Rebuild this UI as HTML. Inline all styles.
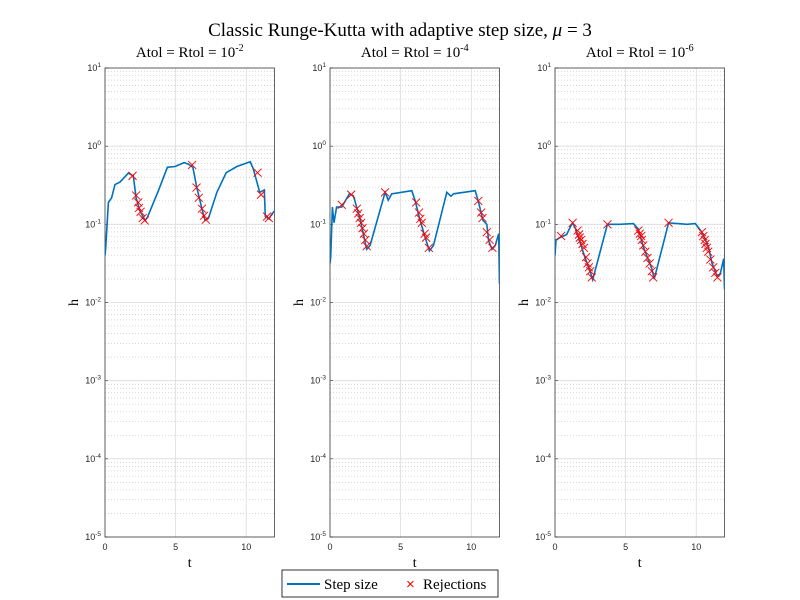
<!DOCTYPE html>
<html><head><meta charset="utf-8"><style>
body{margin:0;background:#fff;}
svg{display:block;font-family:"Liberation Sans",sans-serif;}
.serif{font-family:"Liberation Serif",serif;}
</style></head><body>
<svg id="fig" width="800" height="600" viewBox="0 0 800 600">
<rect width="800" height="600" fill="#fff"/>
<text class="serif" x="400" y="36" text-anchor="middle" font-size="19">Classic Runge-Kutta with adaptive step size, <tspan font-style="italic">μ</tspan> = 3</text>
<g>
<rect x="282" y="570" width="216" height="27" fill="#fff" stroke="#000" stroke-width="0.8"/>
<line x1="287" y1="584" x2="320" y2="584" stroke="#0072BD" stroke-width="2"/>
<text class="serif" x="324" y="589" font-size="15">Step size</text>
<text x="406" y="589" font-size="15" fill="#f00">×</text>
<text class="serif" x="423" y="589" font-size="15">Rejections</text>
</g>
</svg>
<script>
const tTicks=[0,5,10];
const yExps=[1,0,-1,-2,-3,-4,-5];
const titles=["-2","-4","-6"];
const t1=[0,0.05,0.24,0.47,0.71,1.06,1.65,2.0,2.2,2.48,2.84,3.0,3.78,4.42,4.96,5.6,5.9,6.22,6.5,6.86,7.09,7.33,7.92,8.58,9.34,10.28,10.5,10.95,11.28,11.35,11.6,11.8,12];
const h1=[-1.4,-1.3,-0.72,-0.66,-0.49,-0.46,-0.345,-0.38,-0.66,-0.83,-0.95,-0.91,-0.57,-0.27,-0.26,-0.21,-0.23,-0.27,-0.53,-0.80,-0.95,-0.92,-0.59,-0.34,-0.26,-0.20,-0.29,-0.59,-0.56,-0.90,-0.93,-0.87,-0.83];
const rt1=[1.95,2.2,2.35,2.4,2.52,2.67,2.81,6.17,6.48,6.64,6.86,7.02,7.14,10.8,11.05,11.47,11.6];
const rh1=[-0.38,-0.63,-0.72,-0.79,-0.84,-0.92,-0.95,-0.24,-0.53,-0.66,-0.80,-0.89,-0.94,-0.34,-0.62,-0.90,-0.92];
const t2=[0,0.05,0.17,0.28,0.47,0.83,1.37,1.66,2.13,2.6,2.84,3.9,4.13,4.37,5.79,6.03,6.38,6.74,7.04,7.33,8.27,8.56,8.75,10.28,10.52,10.83,11.1,11.23,11.47,11.7,11.94,12];
const h2=[-1.5,-1.42,-0.78,-0.98,-0.78,-0.78,-0.61,-0.635,-0.93,-1.32,-1.27,-0.59,-0.69,-0.61,-0.57,-0.70,-0.95,-1.17,-1.34,-1.27,-0.59,-0.64,-0.61,-0.57,-0.72,-0.95,-1.0,-1.21,-1.32,-1.27,-1.12,-1.76];
const rt2=[0.83,1.5,1.9,2.0,2.1,2.2,2.3,2.4,2.5,2.6,3.9,6.1,6.3,6.4,6.5,6.7,6.8,7.0,10.5,10.7,10.8,11.1,11.3,11.5];
const rh2=[-0.75,-0.62,-0.8,-0.86,-0.92,-0.98,-1.05,-1.12,-1.2,-1.28,-0.59,-0.72,-0.85,-0.93,-0.98,-1.12,-1.17,-1.3,-0.7,-0.85,-0.92,-1.1,-1.2,-1.3];
const t3=[0,0.07,0.35,0.83,1.06,1.25,1.49,1.77,2.13,2.48,2.67,3.71,4.6,5.55,5.9,6.26,6.62,6.86,7.02,8.04,9.34,9.93,10.4,10.87,11.1,11.47,11.7,11.94,12];
const h3=[-1.4,-1.2,-1.17,-1.13,-1.04,-0.98,-1.07,-1.23,-1.43,-1.60,-1.71,-1.0,-1.0,-0.99,-1.06,-1.29,-1.46,-1.57,-1.70,-0.98,-1.0,-0.99,-1.10,-1.29,-1.49,-1.66,-1.63,-1.44,-1.83];
const rt3=[0.43,1.25,1.6,1.7,1.75,1.85,1.95,2.05,2.2,2.3,2.4,2.5,2.6,3.71,5.9,6.0,6.1,6.15,6.25,6.4,6.55,6.7,6.85,6.95,8.04,10.4,10.5,10.6,10.65,10.75,10.85,11.0,11.2,11.35,11.5];
const rh3=[-1.15,-0.98,-1.08,-1.13,-1.17,-1.2,-1.25,-1.3,-1.42,-1.5,-1.55,-1.6,-1.68,-1.0,-1.08,-1.12,-1.15,-1.2,-1.27,-1.35,-1.43,-1.5,-1.6,-1.68,-0.98,-1.1,-1.15,-1.2,-1.25,-1.3,-1.35,-1.45,-1.55,-1.62,-1.68];
const series=[[t1,h1,rt1,rh1],[t2,h2,rt2,rh2],[t3,h3,rt3,rh3]];
const NS="http://www.w3.org/2000/svg";
const svg=document.getElementById('fig');
function mk(tag,attrs,parent){const e=document.createElementNS(NS,tag);for(const k in attrs)e.setAttribute(k,attrs[k]);parent.appendChild(e);return e;}
const lefts=[105,330,555],W=169.5,TOP=68,BOT=537;
series.forEach((s,i)=>{
  const L=lefts[i];
  const xs=t=>L+t/12*W;
  const ys=lh=>TOP+(1-lh)/6*(BOT-TOP);
  const g=mk('g',{},svg);
  
  
  mk('rect',{x:L,y:TOP,width:W,height:BOT-TOP,fill:'#fff'},g);
  for(let e=-5;e<1;e++){for(let m=2;m<10;m++){const y=ys(e+Math.log10(m));
    mk('line',{x1:L,x2:L+W,y1:y,y2:y,stroke:'#c8c8c8','stroke-width':0.7,'stroke-dasharray':'1,2'},g);}}
  yExps.forEach(e=>{const y=ys(e);mk('line',{x1:L,x2:L+W,y1:y,y2:y,stroke:'#dcdcdc','stroke-width':0.8},g);
    const tx=mk('text',{x:L-4,y:y+3,'text-anchor':'end','font-size':9,fill:'#262626'},g);
    
    
    tx.textContent='10';const sp=mk('tspan',{dy:-4,'font-size':6.5},tx);sp.textContent=String(e);
    mk('line',{x1:L,x2:L+3,y1:y,y2:y,stroke:'#262626','stroke-width':0.6},g);});
  tTicks.forEach(t=>{const x=xs(t);mk('line',{x1:x,x2:x,y1:TOP,y2:BOT,stroke:'#dcdcdc','stroke-width':0.8},g);
    const tx=mk('text',{x:x,y:BOT+13,'text-anchor':'middle','font-size':9,fill:'#262626'},g);
    
    
    tx.textContent=t;});
  mk('rect',{x:L,y:TOP,width:W,height:BOT-TOP,fill:'none',stroke:'#262626','stroke-width':0.7},g);
  const cp=mk('clipPath',{id:'cp'+i},g);mk('rect',{x:L,y:TOP,width:W,height:BOT-TOP},cp);
  const d=s[0].map((t,k)=>(k?'L':'M')+xs(t).toFixed(1)+','+ys(s[1][k]).toFixed(1)).join('');
  const p=mk('path',{d:d,fill:'none',stroke:'#0072BD','stroke-width':1.6,'clip-path':'url(#cp'+i+')'},g);
  
  
  s[2].forEach((t,k)=>{const x=xs(t),y=ys(s[3][k]),r=4;
    const m=mk('path',{d:`M${x-r},${y-r}L${x+r},${y+r}M${x-r},${y+r}L${x+r},${y-r}`,stroke:'#f00','stroke-width':0.9},g);
    
    });
  const ti=mk('text',{x:L+W/2,y:57,'text-anchor':'middle','font-size':15,class:'serif'},g);
  
  
  ti.textContent='Atol = Rtol = 10';const sp=mk('tspan',{dy:-6,'font-size':10},ti);sp.textContent=titles[i];
  const xl=mk('text',{x:L+W/2,y:BOT+30,'text-anchor':'middle','font-size':14,class:'serif'},g);
  
  
  xl.textContent='t';
  const yl=mk('text',{x:L-27,y:(TOP+BOT)/2,'text-anchor':'middle','font-size':14,class:'serif',transform:`rotate(-90 ${L-27} ${(TOP+BOT)/2})`},g);
  
  
  yl.textContent='h';
});
</script>
</body></html>
